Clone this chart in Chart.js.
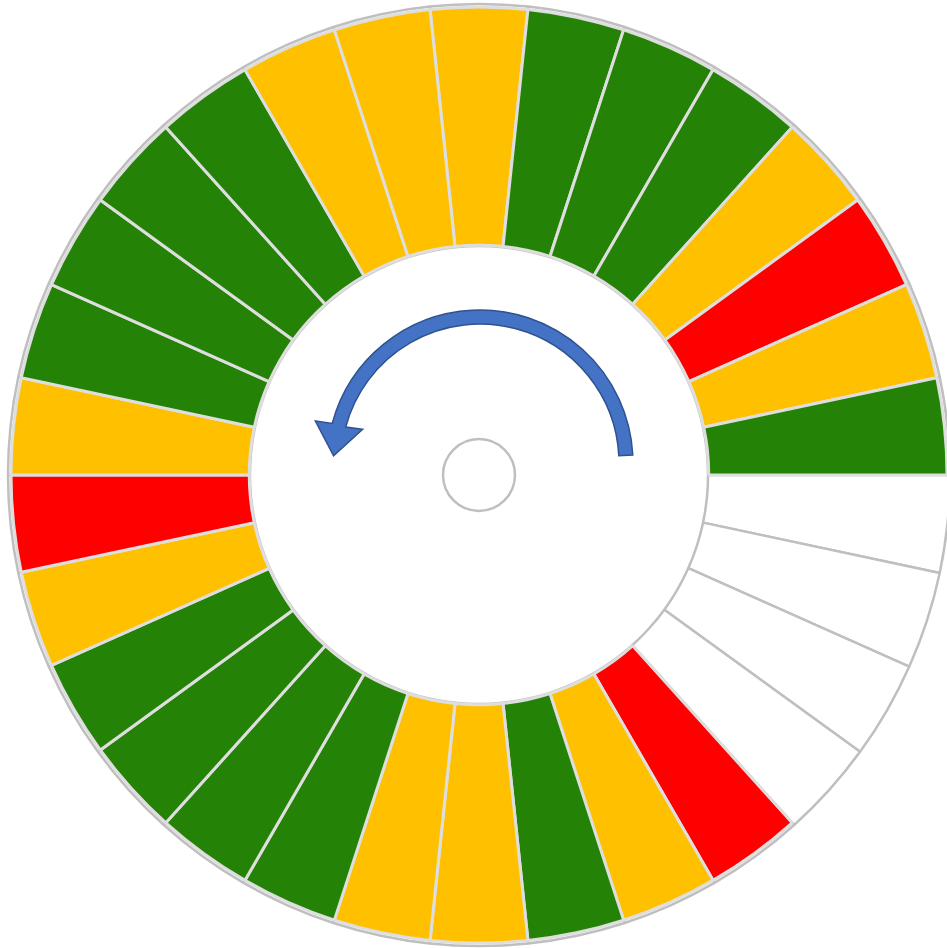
<!DOCTYPE html>
<html>
<head>
<meta charset="utf-8">
<script src="https://cdn.jsdelivr.net/npm/chart.js@4/dist/chart.umd.min.js"></script>
<style>
  html, body { margin: 0; padding: 0; background: #fff; }
  #wrap { position: relative; width: 947px; height: 948px; }
  #wrap canvas { position: absolute; left: 0; top: 0; }
</style>
</head>
<body>
<div id="wrap">
  <canvas id="base" width="947" height="948"></canvas>
  <canvas id="ring" width="947" height="948"></canvas>
</div>
<script>
// --- Данные: 30 равных секторов, по часовой стрелке от 12 часов ---
const sectors = ['1','2','3','4','5','6','7','8','9','10','11','12','13','14','15',
                 '16','17','18','19','20','21','22','23','24','25','26','27','28','29','30'];
const sectorValues = [1,1,1,1,1,1,1,1,1,1,1,1,1,1,1,1,1,1,1,1,1,1,1,1,1,1,1,1,1,1];
const sectorStatus = ['Y','G','G','G','Y','R','Y','G','W','W','W','W','R','Y','G',
                      'Y','Y','G','G','G','G','Y','R','Y','G','G','G','G','Y','Y'];

// --- Цвета статусов ---
const statusColors = {
  G: '#248207',
  Y: '#FFC000',
  R: '#FF0000',
  W: 'rgba(255,255,255,0)'
};

const commonOptions = {
  responsive: false,
  animation: false,
  events: [],
  rotation: -6,
  layout: { padding: { left: 11, right: 0, top: 2, bottom: 0 } },
  plugins: { legend: { display: false }, tooltip: { enabled: false } }
};

// Подложка: белое кольцо с серыми границами
new Chart(document.getElementById('base'), {
  type: 'doughnut',
  data: {
    labels: sectors,
    datasets: [{
      data: sectorValues,
      backgroundColor: '#FFFFFF',
      borderColor: '#BFBFBF',
      borderWidth: 2.5,
      radius: 471,
      cutout: 227
    }]
  },
  options: commonOptions
});

// Стрелка и центральный кружок
const decorPlugin = {
  id: 'decor',
  afterDraw(chart) {
    const ctx = chart.ctx;
    const meta = chart.getDatasetMeta(0);
    const cx = meta.data[0].x, cy = meta.data[0].y;

    // центральный кружок
    ctx.save();
    ctx.beginPath();
    ctx.arc(cx, cy, 36, 0, Math.PI * 2);
    ctx.strokeStyle = '#BFBFBF';
    ctx.lineWidth = 2.5;
    ctx.stroke();
    ctx.restore();

    // дуговая стрелка против часовой
    const ax = cx + 1, ay = cy - 12;
    const rMid = 146, half = 7;
    const a0 = -3 * Math.PI / 180;
    const a1 = -165 * Math.PI / 180;
    const headW = 24, headL = 31;
    const headAng = 100 * Math.PI / 180; // наконечник смотрит вниз-влево
    const bx = ax + rMid * Math.cos(a1), by = ay + rMid * Math.sin(a1);
    const tx = Math.cos(headAng), ty = Math.sin(headAng);
    const px = -ty, py = tx;

    ctx.save();
    ctx.beginPath();
    ctx.arc(ax, ay, rMid + half, a0, a1, true);
    ctx.lineTo(bx + px * headW, by + py * headW);
    ctx.lineTo(bx + tx * headL, by + ty * headL);
    ctx.lineTo(bx - px * headW, by - py * headW);
    ctx.arc(ax, ay, rMid - half, a1, a0, false);
    ctx.closePath();
    ctx.fillStyle = '#4472C4';
    ctx.fill();
    ctx.strokeStyle = '#2F528F';
    ctx.lineWidth = 1.5;
    ctx.lineJoin = 'miter';
    ctx.stroke();
    ctx.restore();
  }
};

// Цветные секторы поверх подложки
new Chart(document.getElementById('ring'), {
  type: 'doughnut',
  data: {
    labels: sectors,
    datasets: [{
      data: sectorValues,
      backgroundColor: sectorStatus.map(s => statusColors[s]),
      borderColor: sectorStatus.map(s => s === 'W' ? 'rgba(0,0,0,0)' : '#DEDEDE'),
      borderWidth: 3,
      radius: 468,
      cutout: 229
    }]
  },
  options: commonOptions,
  plugins: [decorPlugin]
});
</script>
</body>
</html>
